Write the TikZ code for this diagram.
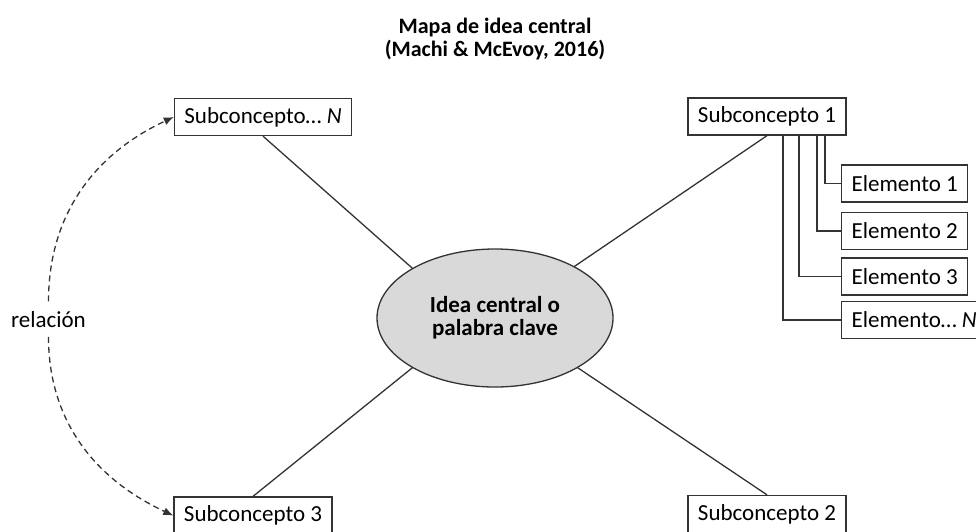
\documentclass[tikz,border=0pt]{standalone}
\usepackage{fontspec}
\setmainfont{Carlito}
\usetikzlibrary{arrows.meta,shapes.geometric}
\begin{document}
\begin{tikzpicture}[x=1pt, y=-1pt, line width=1.3pt, draw=black!80,
    box/.style = {draw, fill=white, font=\fontsize{23}{27}\selectfont, inner xsep=10pt, inner ysep=0pt, minimum height=37pt},
    idea/.style = {draw, ellipse, fill=black!15, font=\fontsize{23}{23}\selectfont\bfseries, align=center, minimum width=236pt, minimum height=138pt, inner sep=0pt, outer sep=0pt},
    title/.style = {font=\fontsize{22}{23}\selectfont\bfseries},
    link/.style = {dashed, dash pattern=on 6pt off 4pt, -{Latex[length=10pt,width=8pt]}}]
        \useasboundingbox (0,0) rectangle (976,531);
        \node[title, anchor=base] (t1) at (495,33) {Mapa de idea central};
        \node[title, anchor=base] (t2) at (495,56) {(Machi \& McEvoy, 2016)};
        \node[idea] (c) at (495,318) {Idea central o\\palabra clave};
        \node[box] (sN) at (263,117) {Subconcepto… \textit{N}};
        \node[box] (s1) at (767,116.5) {Subconcepto 1};
        \node[box] (s3) at (253,515.5) {Subconcepto 3};
        \node[box] (s2) at (767,514) {Subconcepto 2};
        \node[box, anchor=west] (e1) at (841,183.5) {Elemento 1};
        \node[box, anchor=west] (e2) at (841,231) {Elemento 2};
        \node[box, anchor=west] (e3) at (841,276.5) {Elemento 3};
        \node[box, anchor=west] (eN) at (841,320) {Elemento… \textit{N}};
        \node[font=\fontsize{23}{27}\selectfont, inner ysep=9pt, anchor=base] (r) at (48.5,327) {relación};

        \draw (sN.south) -- (c.149);
        \draw (s1.south) -- (c.33);
        \draw (s3.north) -- (c.211);
        \draw (s2.north) -- (c.-31);

        \draw ([xshift=58pt]s1.south) |- (e1);
        \draw ([xshift=50pt]s1.south) |- (e2);
        \draw ([xshift=32pt]s1.south) |- (e3);
        \draw ([xshift=16pt]s1.south) |- (eN);

        \draw[link] (r.north) to[out=90,in=205] (sN.west);
        \draw[link] (r.south) to[out=-90,in=155] (s3.west);
    \end{tikzpicture}
\end{document}
